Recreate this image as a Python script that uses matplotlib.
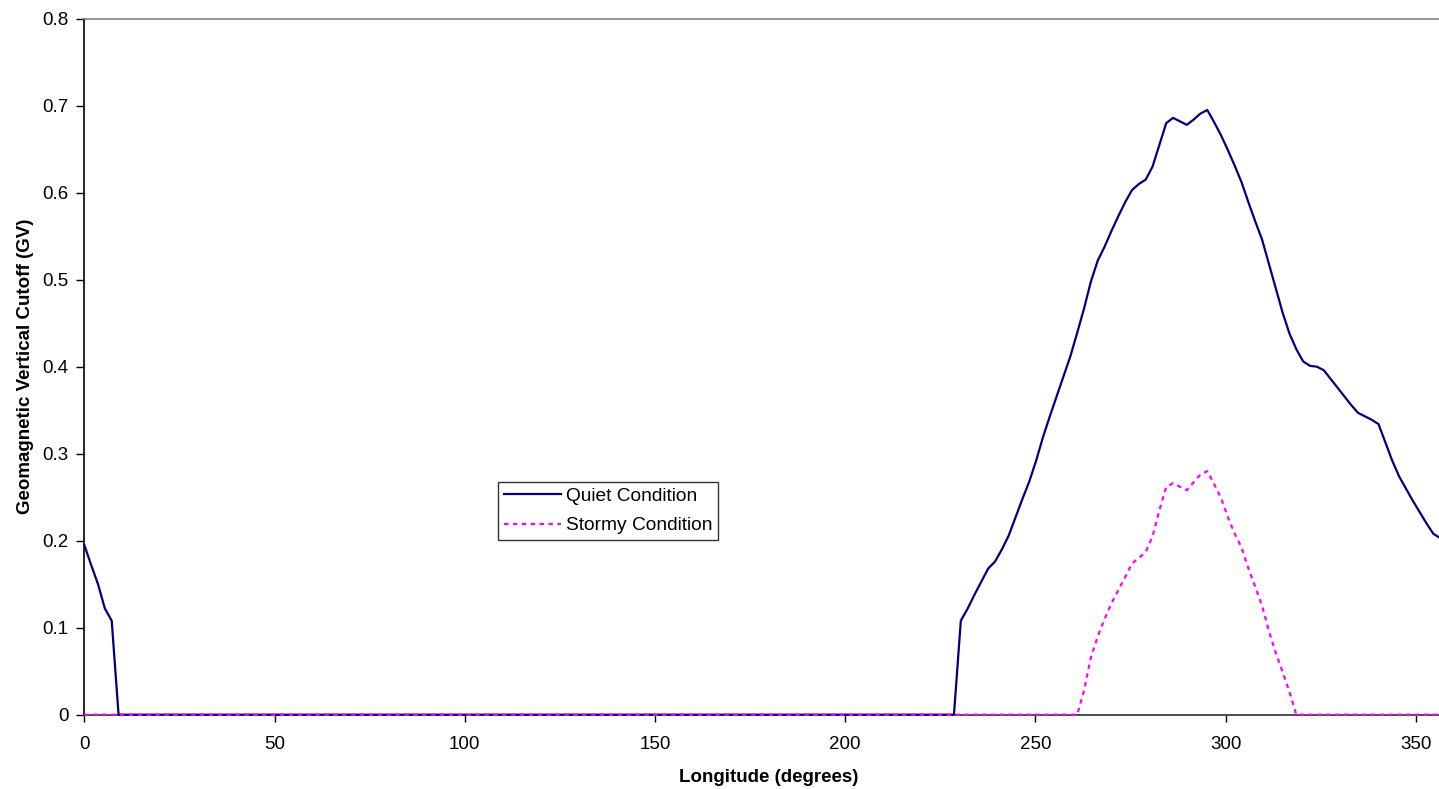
import numpy as np
import matplotlib
matplotlib.use("Agg")
import matplotlib.pyplot as plt

plt.rcParams['font.family'] = ['Liberation Sans', 'DejaVu Sans']

# longitude grid, 1.8 degree steps (0 .. 358.2)
step = 1.8
n_points = 200
longitude = np.arange(n_points) * step

# quiet condition: non-zero near 0 deg and from 230.4 deg to the end
quiet_start = [0.195, 0.172, 0.150, 0.122, 0.108]
quiet_rise_index = 128
quiet_rise = [
    0.108, 0.122, 0.138, 0.153, 0.168, 0.176, 0.190, 0.206, 0.227, 0.248,
    0.268, 0.292, 0.319, 0.343, 0.366, 0.389, 0.412, 0.439, 0.467, 0.498,
    0.522, 0.538, 0.556, 0.573, 0.589, 0.603, 0.610, 0.615, 0.630, 0.655,
    0.680, 0.686, 0.682, 0.678, 0.684, 0.691, 0.695, 0.681, 0.666, 0.649,
    0.631, 0.612, 0.589, 0.567, 0.546, 0.518, 0.490, 0.462, 0.438, 0.420,
    0.406, 0.401, 0.400, 0.396, 0.386, 0.376, 0.366, 0.356, 0.347, 0.343,
    0.339, 0.334, 0.313, 0.292, 0.274, 0.260, 0.246, 0.233, 0.220, 0.208,
    0.203, 0.198,
]

# stormy condition: non-zero only between 261 and 318.6 deg
stormy_index = 145
stormy_bump = [
    0.000, 0.028, 0.066, 0.090, 0.110, 0.128, 0.143, 0.158, 0.174, 0.180,
    0.187, 0.205, 0.235, 0.262, 0.266, 0.262, 0.258, 0.267, 0.276, 0.280,
    0.265, 0.249, 0.227, 0.208, 0.192, 0.168, 0.147, 0.125, 0.096, 0.071,
    0.049, 0.026, 0.000,
]

quiet = np.zeros(n_points)
quiet[:len(quiet_start)] = quiet_start
quiet[quiet_rise_index:quiet_rise_index + len(quiet_rise)] = quiet_rise

stormy = np.zeros(n_points)
stormy[stormy_index:stormy_index + len(stormy_bump)] = stormy_bump

fig = plt.figure(figsize=(14.39, 7.89), dpi=100)
ax = fig.add_axes([0.0586, 0.0942, 0.9414, 0.8821])

ax.plot(longitude, quiet, color='#000080', lw=1.6, label='Quiet Condition',
        clip_on=False, zorder=3)
ax.plot(longitude, stormy, color='#FF00FF', lw=1.6, linestyle=(0, (2, 2)),
        label='Stormy Condition', clip_on=False, zorder=4)

ax.set_xlim(0, 356.1)
ax.set_ylim(0, 0.8)
ax.set_xticks(np.arange(0, 351, 50))
ax.set_yticks(np.arange(0, 0.81, 0.1))
ax.set_yticklabels(['0', '0.1', '0.2', '0.3', '0.4', '0.5', '0.6', '0.7', '0.8'])

ax.tick_params(axis='x', direction='out', length=5, width=1, pad=10,
               labelsize=13.5, colors='black')
ax.tick_params(axis='y', direction='out', length=5.5, width=1, pad=6,
               labelsize=13.5, colors='black')

ax.spines['right'].set_visible(False)
ax.spines['top'].set_color('#808080')
ax.spines['top'].set_linewidth(1.2)
ax.spines['left'].set_color('black')
ax.spines['left'].set_linewidth(1.2)
ax.spines['bottom'].set_color('#303030')
ax.spines['bottom'].set_linewidth(1.2)

ax.set_xlabel('Longitude (degrees)', fontsize=13.5, fontweight='bold')
ax.set_ylabel('Geomagnetic Vertical Cutoff (GV)', fontsize=13.5, fontweight='bold')
ax.xaxis.set_label_coords(0.505, -0.078)
ax.yaxis.set_label_coords(-0.037, 0.5)

leg = ax.legend(loc='upper left', bbox_to_anchor=(498 / 1439, 1 - 482 / 789),
                bbox_transform=fig.transFigure, fontsize=13.8, frameon=True,
                fancybox=False, shadow=False, borderaxespad=0,
                handlelength=3.0, handletextpad=0.25, borderpad=0.3,
                labelspacing=0.62)
leg.get_frame().set_edgecolor('black')
leg.get_frame().set_linewidth(1.0)

fig.savefig('out.png', dpi=100)
